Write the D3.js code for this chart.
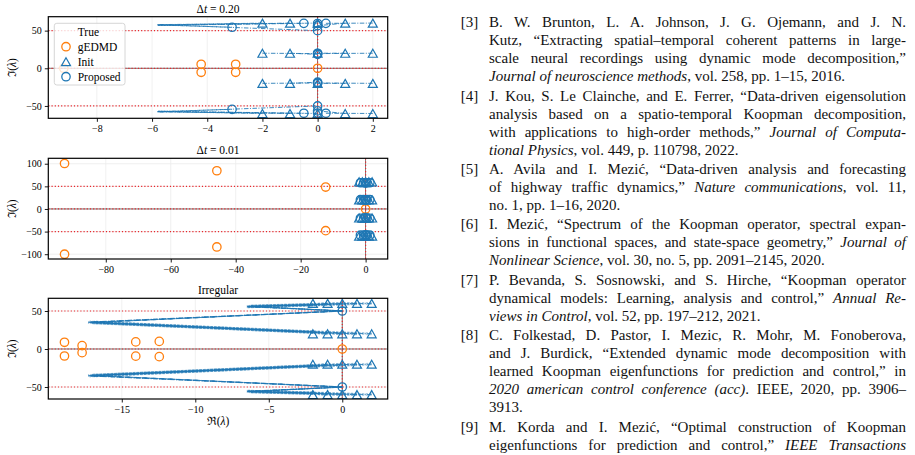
<!DOCTYPE html>
<html>
<head>
<meta charset="utf-8">
<script src="https://cdn.jsdelivr.net/npm/d3@7"></script>
<style>
  body { margin: 0; background: #fff; }
  svg { display: block; }
</style>
</head>
<body>
<svg id="fig" width="915" height="455"></svg>
<script>
// ---- data ----
const initRe = [-2, -1, 0, 1, 2];
const initIm = [60, 20, -20, -60];
const trueIm = [50, 0, -50];
const trueRe = [0];

// panel A: dt = 0.20
const gedmdA = [[-9.2, 0], [-4.22, 5.3], [-4.22, -5.3], [-2.97, 5.3], [-2.97, -5.3], [0, 0]];
const proposedA = [
  [-3.1, 54.5], [-0.5, 59.7], [0, 59.5], [0, 56.6], [0, 50], [0.3, 59.7],
  [0, 19.5], [0, 18.5], [0, 20], [0, -19.5], [0, -18.5], [0, -20],
  [-3.1, -54.5], [-0.5, -59.7], [0, -59.5], [0, -56.6], [0, -50], [0.3, -59.7],
];
const pathsA = [
  [[-2, 60], [-5.8, 57.5], [-3.1, 54.5]],
  [[-1, 60], [-5.8, 57], [-0.5, 59.7]],
  [[0, 60], [-5.8, 58], [0, 50]],
  [[1, 60], [0, 56.6]],
  [[2, 60], [0.3, 59.7]],
  [[-2, 20], [0, 19.5]],
  [[-1, 20], [0, 18.5]],
  [[1, 20], [0, 20]],
  [[2, 20], [0, 19.5]],
  [[-2, -20], [0, -19.5]],
  [[-1, -20], [0, -18.5]],
  [[1, -20], [0, -20]],
  [[2, -20], [0, -19.5]],
  [[-2, -60], [-5.8, -57.5], [-3.1, -54.5]],
  [[-1, -60], [-5.8, -57], [-0.5, -59.7]],
  [[0, -60], [-5.8, -58], [0, -50]],
  [[1, -60], [0, -56.6]],
  [[2, -60], [0.3, -59.7]],
];

// panel B: dt = 0.01
const gedmdB = [[-92.7, 100.5], [-92.7, -100], [-45.8, 84.5], [-45.8, -84], [-12.3, 48.5], [-12.3, -48], [0, 0]];
const proposedB = [
  [-1.6, 58], [-0.6, 58], [0.4, 58], [1.3, 58], [0, 57],
  [-1.6, 20.5], [-0.6, 20.5], [0.4, 20.5], [1.3, 20.5], [0, 19],
  [-1.6, -20.5], [-0.6, -20.5], [0.4, -20.5], [1.3, -20.5], [0, -19],
  [-1.6, -58], [-0.6, -58], [0.4, -58], [1.3, -58], [0, -57],
];
const pathsB = [
  [[-2, 60], [-1.6, 58]], [[-1, 60], [-0.6, 58]], [[0, 60], [0.4, 58]], [[1, 60], [1.3, 58]], [[2, 60], [0, 57]],
  [[-2, 20], [-1.6, 20.5]], [[-1, 20], [-0.6, 20.5]], [[0, 20], [0.4, 20.5]], [[1, 20], [1.3, 20.5]], [[2, 20], [0, 19]],
  [[-2, -20], [-1.6, -20.5]], [[-1, -20], [-0.6, -20.5]], [[0, -20], [0.4, -20.5]], [[1, -20], [1.3, -20.5]], [[2, -20], [0, -19]],
  [[-2, -60], [-1.6, -58]], [[-1, -60], [-0.6, -58]], [[0, -60], [0.4, -58]], [[1, -60], [1.3, -58]], [[2, -60], [0, -57]],
];

// panel C: irregular sampling
const gedmdC = [
  [-18.9, 8.8], [-18.9, -9.2], [-17.7, 4.4], [-17.7, -4.8],
  [-14.05, 9.3], [-14.05, -9.4], [-12.45, 10], [-12.45, -10.1], [0, 0],
];
const proposedC = [[0, 50], [0, -50]];
const pathsC = [
  [[-2, 60], [-2, 58.2], [-6.5, 56], [0, 50]],
  [[-1, 60], [-2, 58.0], [-6.4, 55.7], [0, 50.3]],
  [[0, 60], [-2, 58.4], [-6.3, 56.2], [0, 49.8]],
  [[1, 60], [-2, 57.8], [-6.5, 55.5], [0, 50.2]],
  [[2, 60], [-2, 58.6], [-6.2, 56.4], [0, 49.9]],
  [[-2, 20], [-2, 22.2], [-17.3, 35], [0, 50]],
  [[-1, 20], [-2, 22.0], [-17.1, 34.6], [0, 50.3]],
  [[0, 20], [-2, 22.4], [-16.9, 35.3], [0, 49.8]],
  [[1, 20], [-2, 21.8], [-17.2, 35.5], [0, 50.2]],
  [[2, 20], [-2, 22.6], [-17.0, 34.8], [0, 49.9]],
  [[-2, -20], [-2, -22.2], [-17.3, -35], [0, -50]],
  [[-1, -20], [-2, -22.0], [-17.1, -34.6], [0, -50.3]],
  [[0, -20], [-2, -22.4], [-16.9, -35.3], [0, -49.8]],
  [[1, -20], [-2, -21.8], [-17.2, -35.5], [0, -50.2]],
  [[2, -20], [-2, -22.6], [-17.0, -34.8], [0, -49.9]],
  [[-2, -60], [-2, -58.2], [-6.5, -56], [0, -50]],
  [[-1, -60], [-2, -58.0], [-6.4, -55.7], [0, -50.3]],
  [[0, -60], [-2, -58.4], [-6.3, -56.2], [0, -49.8]],
  [[1, -60], [-2, -57.8], [-6.5, -55.5], [0, -50.2]],
  [[2, -60], [-2, -58.6], [-6.2, -56.4], [0, -49.9]],
];

const xTicksA = [-8, -6, -4, -2, 0, 2];
const xTicksB = [-80, -60, -40, -20, 0];
const xTicksC = [-15, -10, -5, 0];
const yTicksA = [-50, 0, 50];
const yTicksB = [-100, -50, 0, 50, 100];
const yTicksC = [-50, 0, 50];

const legendLabels = ['True', 'gEDMD', 'Init', 'Proposed'];

// reference list on the right, *...* marks italics
const refLabels = ['[3]', '[4]', '[5]', '[6]', '[7]', '[8]', '[9]'];
const refs = [
  [
    'B. W. Brunton, L. A. Johnson, J. G. Ojemann, and J. N.',
    'Kutz, “Extracting spatial–temporal coherent patterns in large-',
    'scale neural recordings using dynamic mode decomposition,”',
    '*Journal of neuroscience methods*, vol. 258, pp. 1–15, 2016.',
  ],
  [
    'J. Kou, S. Le Clainche, and E. Ferrer, “Data-driven eigensolution',
    'analysis based on a spatio-temporal Koopman decomposition,',
    'with applications to high-order methods,” *Journal of Computa-*',
    '*tional Physics*, vol. 449, p. 110798, 2022.',
  ],
  [
    'A. Avila and I. Mezić, “Data-driven analysis and forecasting',
    'of highway traffic dynamics,” *Nature communications*, vol. 11,',
    'no. 1, pp. 1–16, 2020.',
  ],
  [
    'I. Mezić, “Spectrum of the Koopman operator, spectral expan-',
    'sions in functional spaces, and state-space geometry,” *Journal of*',
    '*Nonlinear Science*, vol. 30, no. 5, pp. 2091–2145, 2020.',
  ],
  [
    'P. Bevanda, S. Sosnowski, and S. Hirche, “Koopman operator',
    'dynamical models: Learning, analysis and control,” *Annual Re-*',
    '*views in Control*, vol. 52, pp. 197–212, 2021.',
  ],
  [
    'C. Folkestad, D. Pastor, I. Mezic, R. Mohr, M. Fonoberova,',
    'and J. Burdick, “Extended dynamic mode decomposition with',
    'learned Koopman eigenfunctions for prediction and control,” in',
    '*2020 american control conference (acc)*. IEEE, 2020, pp. 3906–',
    '3913.',
  ],
  [
    'M. Korda and I. Mezić, “Optimal construction of Koopman',
    'eigenfunctions for prediction and control,” *IEEE Transactions*',
  ],
];
const refEndsShort = [true, true, true, true, true, true, false];

// ---- drawing ----
const BLUE = '#1f77b4';
const ORANGE = '#ff7f0e';
const RED = '#e8262b';
const FONT = '"Liberation Serif", "DejaVu Serif", serif';

const svg = d3.select('#fig');
const defs = svg.append('defs');

// band = number of leading points of each path that are slow iterates (drawn dense)
const panels = [
  {
    id: 'A', top: 16.7, bottom: 118.3, xDom: [-9.76, 2.54], yDom: [-66.4, 68.5],
    xTicks: xTicksA, yTicks: yTicksA, title: ['Δ', 't', ' = 0.20'],
    gedmd: gedmdA, proposed: proposedA, paths: pathsA, legend: true, band: 0,
  },
  {
    id: 'B', top: 158.3, bottom: 259, xDom: [-97.7, 6.8], yDom: [-110.6, 112],
    xTicks: xTicksB, yTicks: yTicksB, title: ['Δ', 't', ' = 0.01'],
    gedmd: gedmdB, proposed: proposedB, paths: pathsB, band: 0,
  },
  {
    id: 'C', top: 298.3, bottom: 399, xDom: [-20, 3.09], yDom: [-65.8, 66.7],
    xTicks: xTicksC, yTicks: yTicksC, title: ['Irregular'],
    gedmd: gedmdC, proposed: proposedC, paths: pathsC, xlabel: true, band: 3,
  },
];
const left = 48.3;
const right = 387.7;

const triPath = (w, h) => `M0,${-h / 2}L${w / 2},${h / 2}L${-w / 2},${h / 2}Z`;
const initPts = initIm.flatMap((im) => initRe.map((re) => [re, im]));

panels.forEach((p) => {
  const x = d3.scaleLinear().domain(p.xDom).range([left, right]);
  const y = d3.scaleLinear().domain(p.yDom).range([p.bottom, p.top]);
  const g = svg.append('g');

  defs.append('clipPath').attr('id', `clip${p.id}`)
    .append('rect')
    .attr('x', left).attr('y', p.top)
    .attr('width', right - left).attr('height', p.bottom - p.top);

  // grid
  g.append('g').selectAll('line').data(p.xTicks).join('line')
    .attr('x1', (d) => x(d)).attr('x2', (d) => x(d))
    .attr('y1', p.top).attr('y2', p.bottom)
    .attr('stroke', '#ececec').attr('stroke-width', 0.8);
  g.append('g').selectAll('line').data(p.yTicks).join('line')
    .attr('x1', left).attr('x2', right)
    .attr('y1', (d) => y(d)).attr('y2', (d) => y(d))
    .attr('stroke', '#ececec').attr('stroke-width', 0.8);

  const plot = g.append('g').attr('clip-path', `url(#clip${p.id})`);

  // zero axes
  plot.append('line')
    .attr('x1', left).attr('x2', right).attr('y1', y(0)).attr('y2', y(0))
    .attr('stroke', '#000').attr('stroke-width', 0.7).attr('opacity', 0.75);
  plot.append('line')
    .attr('x1', x(0)).attr('x2', x(0)).attr('y1', p.top).attr('y2', p.bottom)
    .attr('stroke', '#000').attr('stroke-width', 0.7).attr('opacity', 0.75);

  // true eigenvalues
  plot.append('g').selectAll('line').data(trueIm).join('line')
    .attr('x1', left).attr('x2', right)
    .attr('y1', (d) => y(d)).attr('y2', (d) => y(d))
    .attr('stroke', RED).attr('stroke-width', 1.2)
    .attr('stroke-dasharray', '1.2,2');
  plot.append('g').selectAll('line').data(trueRe).join('line')
    .attr('x1', (d) => x(d)).attr('x2', (d) => x(d))
    .attr('y1', p.top).attr('y2', p.bottom)
    .attr('stroke', RED).attr('stroke-width', 1.2)
    .attr('stroke-dasharray', '1.2,2');

  // trajectories
  const line = d3.line().x((d) => x(d[0])).y((d) => y(d[1]));
  if (p.band) {
    plot.append('g').selectAll('path').data(p.paths).join('path')
      .attr('d', (d) => line(d.slice(0, p.band)))
      .attr('fill', 'none')
      .attr('stroke', BLUE).attr('stroke-width', 3)
      .attr('stroke-dasharray', '2.4,1.3')
      .attr('opacity', 0.35);
  }
  plot.append('g').selectAll('path').data(p.paths).join('path')
    .attr('d', line)
    .attr('fill', 'none')
    .attr('stroke', BLUE).attr('stroke-width', 1)
    .attr('stroke-dasharray', '4.5,1.5,1,1.5')
    .attr('opacity', 0.85);

  // gEDMD
  plot.append('g').selectAll('circle').data(p.gedmd).join('circle')
    .attr('cx', (d) => x(d[0])).attr('cy', (d) => y(d[1])).attr('r', 4.2)
    .attr('fill', 'none').attr('stroke', ORANGE).attr('stroke-width', 1.3);

  // init
  plot.append('g').selectAll('path').data(initPts).join('path')
    .attr('d', triPath(9, 8))
    .attr('transform', (d) => `translate(${x(d[0])},${y(d[1])})`)
    .attr('fill', 'none').attr('stroke', BLUE).attr('stroke-width', 1.2);

  // proposed
  plot.append('g').selectAll('circle').data(p.proposed).join('circle')
    .attr('cx', (d) => x(d[0])).attr('cy', (d) => y(d[1])).attr('r', 4.2)
    .attr('fill', 'none').attr('stroke', BLUE).attr('stroke-width', 1.3);

  // frame
  g.append('rect')
    .attr('x', left).attr('y', p.top)
    .attr('width', right - left).attr('height', p.bottom - p.top)
    .attr('fill', 'none').attr('stroke', '#000').attr('stroke-width', 1.2);

  // axes
  const xAxis = g.append('g')
    .attr('transform', `translate(0,${p.bottom})`)
    .call(d3.axisBottom(x).tickValues(p.xTicks).tickSize(3.5).tickPadding(3));
  const yAxis = g.append('g')
    .attr('transform', `translate(${left},0)`)
    .call(d3.axisLeft(y).tickValues(p.yTicks).tickSize(3.5).tickPadding(3));
  [xAxis, yAxis].forEach((a) => {
    a.select('.domain').remove();
    a.selectAll('line').attr('stroke-width', 0.9);
    a.selectAll('text').attr('font-family', FONT).attr('font-size', 10).attr('fill', '#000');
  });

  // title
  const title = g.append('text')
    .attr('x', (left + right) / 2).attr('y', p.top - 4)
    .attr('text-anchor', 'middle')
    .attr('font-family', FONT).attr('font-size', 11.5);
  p.title.forEach((s, i) => {
    title.append('tspan').attr('font-style', i === 1 ? 'italic' : null).text(s);
  });

  // y label
  const yl = g.append('text')
    .attr('transform', `translate(16,${(p.top + p.bottom) / 2}) rotate(-90)`)
    .attr('text-anchor', 'middle')
    .attr('font-family', FONT).attr('font-size', 11.5);
  yl.append('tspan').text('ℑ(');
  yl.append('tspan').attr('font-style', 'italic').text('λ');
  yl.append('tspan').text(')');

  if (p.xlabel) {
    const xl = g.append('text')
      .attr('x', (left + right) / 2).attr('y', p.bottom + 26)
      .attr('text-anchor', 'middle')
      .attr('font-family', FONT).attr('font-size', 11.5);
    xl.append('tspan').text('ℜ(');
    xl.append('tspan').attr('font-style', 'italic').text('λ');
    xl.append('tspan').text(')');
  }

  if (p.legend) {
    const lg = g.append('g').attr('transform', 'translate(54.3,23.3)');
    lg.append('rect')
      .attr('width', 70.7).attr('height', 61.7).attr('rx', 2.5)
      .attr('fill', '#fff').attr('fill-opacity', 0.8)
      .attr('stroke', '#cccccc').attr('stroke-width', 0.8);
    const rows = lg.selectAll('g.row').data(legendLabels).join('g')
      .attr('class', 'row')
      .attr('transform', (d, i) => `translate(0,${8.4 + i * 15})`);
    rows.append('text')
      .attr('x', 23.4).attr('y', 4)
      .attr('font-family', FONT).attr('font-size', 11.5)
      .text((d) => d);
    rows.filter((d) => d === 'gEDMD').append('circle')
      .attr('cx', 11.7).attr('r', 4.2)
      .attr('fill', 'none').attr('stroke', ORANGE).attr('stroke-width', 1.3);
    rows.filter((d) => d === 'Init').append('path')
      .attr('d', triPath(9, 8)).attr('transform', 'translate(11.7,0)')
      .attr('fill', 'none').attr('stroke', BLUE).attr('stroke-width', 1.2);
    rows.filter((d) => d === 'Proposed').append('circle')
      .attr('cx', 11.7).attr('r', 4.2)
      .attr('fill', 'none').attr('stroke', BLUE).attr('stroke-width', 1.3);
  }
});

// ---- reference text, justified line by line ----
const textX = 489;
const textW = 417;
const refG = svg.append('g')
  .attr('font-family', '"Liberation Serif", "Times New Roman", serif')
  .attr('font-size', 15)
  .attr('fill', '#111');
let lineIdx = 0;
refs.forEach((entry, ei) => {
  entry.forEach((ln, li) => {
    const yb = 27.2 + lineIdx * 18 + ei * 1.4;
    if (li === 0) {
      refG.append('text').attr('x', 460.7).attr('y', yb).text(refLabels[ei]);
    }
    const t = refG.append('text').attr('x', textX).attr('y', yb);
    ln.split('*').forEach((seg, si) => {
      if (seg) t.append('tspan').attr('font-style', si % 2 ? 'italic' : null).text(seg);
    });
    const isLast = li === entry.length - 1 && refEndsShort[ei];
    if (!isLast) {
      const w = t.node().getComputedTextLength();
      const gaps = (ln.match(/ /g) || []).length;
      if (gaps) t.attr('word-spacing', (textW - w) / gaps);
    }
    lineIdx += 1;
  });
});
</script>
</body>
</html>
